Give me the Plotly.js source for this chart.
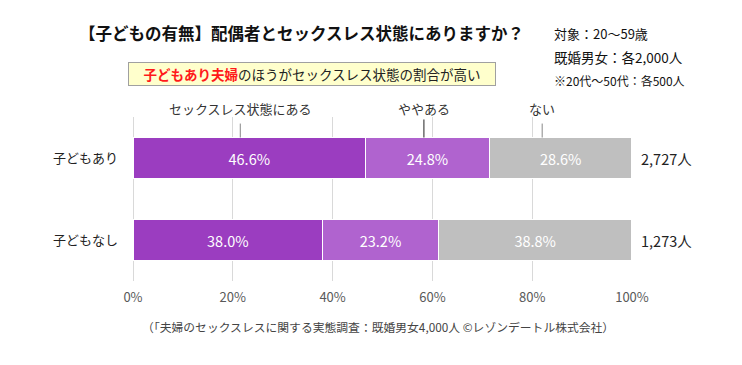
<!DOCTYPE html>
<html><head><meta charset="utf-8">
<script src="https://cdn.plot.ly/plotly-3.0.1.min.js"></script>
<style>html,body{margin:0;padding:0;background:#fff}#c{width:742px;height:365px}</style>
</head><body><div id="c"></div>
<script>
const categories = ['子どもあり', '子どもなし'];
const seriesNames = ['セックスレス状態にある', 'ややある', 'ない'];
const sexless = [46.6, 38.0];
const somewhat = [24.8, 23.2];
const none = [28.6, 38.8];
const totals = ['2,727人', '1,273人'];
const tickVals = [0, 20, 40, 60, 80, 100];
const tickText = ['0%', '20%', '40%', '60%', '80%', '100%'];
const seriesLabelX = [21.5, 58.3, 82];

const F = '"Noto Sans CJK JP", "Noto Sans", sans-serif';
const colors = ['#9B3DC0', '#B063CF', '#BFBFBF'];
const vals = [sexless, somewhat, none];

const traces = vals.map((v, i) => ({
  type: 'bar', orientation: 'h', y: categories, x: v, name: seriesNames[i],
  marker: {color: colors[i], line: {color: '#ffffff', width: 1.5}},
  texttemplate: '%{x:.1f}%', textposition: 'inside', insidetextanchor: 'middle',
  textfont: {color: '#ffffff', size: 14.5, family: F}, hoverinfo: 'skip'
}));

const annotations = [];
const shapes = [];
categories.forEach((c, i) => {
  annotations.push({xref: 'paper', x: 1, xanchor: 'left', xshift: 7, yref: 'y', y: c,
    text: totals[i], showarrow: false, font: {size: 14.5, color: '#222', family: F}});
});
seriesNames.forEach((n, i) => {
  annotations.push({xref: 'x', x: seriesLabelX[i], yref: 'paper', y: 1.0, yanchor: 'bottom', yshift: -3,
    text: n, showarrow: false, font: {size: 13, color: '#333', family: F}});
  shapes.push({type: 'line', xref: 'x', x0: seriesLabelX[i], x1: seriesLabelX[i],
    yref: 'paper', y0: 0.875, y1: i === 1 ? 0.985 : 0.96, line: {color: i === 1 ? '#222' : '#888', width: 1}});
});
// header texts
annotations.push({xref: 'paper', yref: 'paper', x: -0.112, y: 1.51, xanchor: 'left', yanchor: 'middle',
  text: '<b>【子どもの有無】配偶者とセックスレス状態にありますか？</b>', showarrow: false,
  font: {size: 16.5, color: '#111', family: F}});
annotations.push({xref: 'paper', yref: 'paper', x: -0.01, y: 1.265, xanchor: 'left', yanchor: 'middle',
  text: '<b><span style="color:#FF1A1A">子どもあり夫婦</span></b>のほうがセックスレス状態の割合が高い',
  showarrow: false, font: {size: 13.5, color: '#222', family: F},
  bgcolor: '#FFFFCC', bordercolor: '#A0A0A0', borderwidth: 1, borderpad: 2, width: 362, height: 18});
annotations.push({xref: 'paper', yref: 'paper', x: 0.84, y: 1.51, xanchor: 'left', yanchor: 'middle',
  text: '対象：20～59歳', showarrow: false, font: {size: 13, color: '#111', family: F}});
annotations.push({xref: 'paper', yref: 'paper', x: 0.84, y: 1.365, xanchor: 'left', yanchor: 'middle',
  text: '既婚男女：各2,000人', showarrow: false, font: {size: 13.5, color: '#111', family: F}});
annotations.push({xref: 'paper', yref: 'paper', x: 0.84, y: 1.225, xanchor: 'left', yanchor: 'middle',
  text: '※20代～50代：各500人', showarrow: false, font: {size: 12, color: '#111', family: F}});
annotations.push({xref: 'paper', yref: 'paper', x: 0.49, y: -0.28, xanchor: 'center', yanchor: 'middle',
  text: '（「夫婦のセックスレスに関する実態調査：既婚男女4,000人 ©レゾンデートル株式会社）',
  showarrow: false, font: {size: 11.8, color: '#444', family: F}});

const layout = {
  width: 742, height: 365, barmode: 'stack', bargap: 0.5, showlegend: false,
  margin: {l: 133, r: 110, t: 117, b: 84},
  paper_bgcolor: '#fff', plot_bgcolor: '#fff',
  font: {family: F},
  xaxis: {range: [0, 100], tickvals: tickVals, ticktext: tickText, showgrid: true,
    gridcolor: '#D9D9D9', gridwidth: 1, zeroline: true, zerolinecolor: '#D9D9D9', showline: false,
    ticks: '', tickfont: {size: 13, color: '#595959', family: F}, ticklabelstandoff: 7, fixedrange: true},
  yaxis: {categoryorder: 'array', categoryarray: categories, autorange: 'reversed',
    ticks: '', ticklabelstandoff: 14, tickfont: {size: 13, color: '#222', family: F}, showline: false, fixedrange: true},
  annotations, shapes
};
Plotly.newPlot('c', traces, layout, {displayModeBar: false, staticPlot: true});
</script></body></html>
